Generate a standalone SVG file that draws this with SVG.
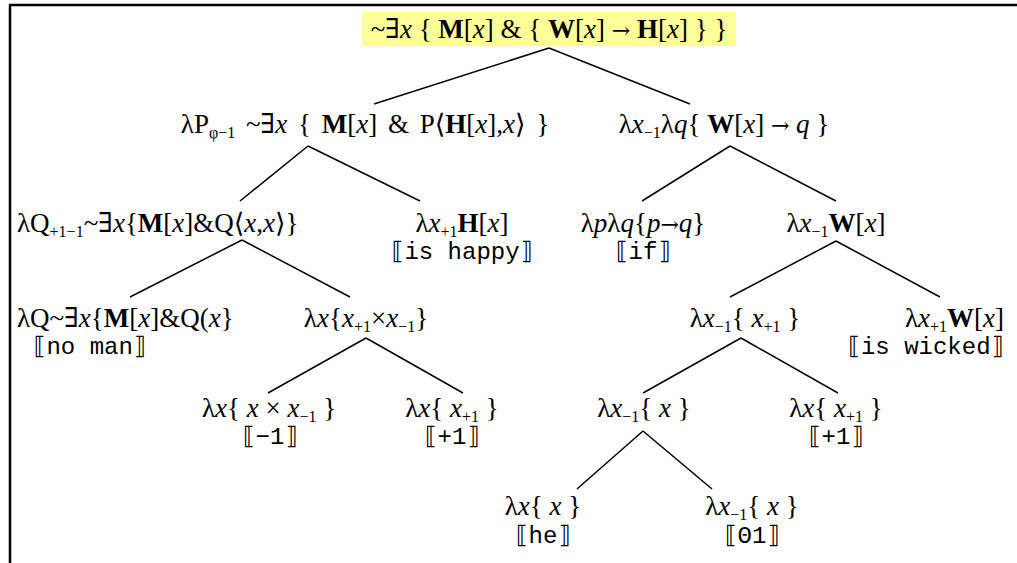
<svg xmlns="http://www.w3.org/2000/svg" width="1017" height="563" viewBox="0 0 1017 563">
<style>
.f{font-family:"Liberation Serif","Times New Roman","DejaVu Serif",serif;font-size:27px;fill:#000}
.m{font-family:"Liberation Mono","DejaVu Sans Mono",monospace;font-size:24px;fill:#000}
.a{font-family:"DejaVu Serif",serif;font-size:22px}
.c{text-anchor:middle}
.l{text-anchor:start}
.r{text-anchor:end}
.i{font-style:italic}
.b{font-weight:bold}
.s{font-size:16px}
.e{stroke:#000;stroke-width:1.5;fill:none}
</style>
<rect x="0" y="0" width="1017" height="563" fill="#fff"/>
<path d="M9 5H1017M10 5V563" stroke="#000" stroke-width="2.5" fill="none"/>
<g id="connectors" class="e">
<path d="M549 48L374 104M549 48L690 104"/>
<path d="M308 146L240 201M308 146L420 201"/>
<path d="M730 146L642 201M730 146L836 201"/>
<path d="M242 240L130 297M242 240L350 297"/>
<path d="M836 241L730 297M836 241L940 297"/>
<path d="M366 338L268 393M366 338L463 393"/>
<path d="M741 338L643 393M741 338L838 393"/>
<path d="M643 431L577 489M643 431L712 489"/>
</g>
<g id="root">
<rect x="362" y="12" width="374" height="34" fill="#ffff99"/>
<text class="f c" x="549" y="38">~∃<tspan class="i">x</tspan> { <tspan class="b">M</tspan>[<tspan class="i">x</tspan>] &amp; { <tspan class="b">W</tspan>[<tspan class="i">x</tspan>] <tspan class="a">→</tspan> <tspan class="b">H</tspan>[<tspan class="i">x</tspan>] } }</text>
</g>
<g id="n2a">
<text class="f c" x="365" y="133" word-spacing="4">λP<tspan class="s" dy="5">φ−1</tspan><tspan dy="-5"> ~∃</tspan><tspan class="i">x</tspan> { <tspan class="b">M</tspan>[<tspan class="i">x</tspan>] &amp; P⟨<tspan class="b">H</tspan>[<tspan class="i">x</tspan>],<tspan class="i">x</tspan>⟩ }</text>
</g>
<g id="n2b">
<text class="f c" x="724" y="133">λ<tspan class="i">x</tspan><tspan class="s" dy="5">−1</tspan><tspan dy="-5">λ</tspan><tspan class="i">q</tspan>{ <tspan class="b">W</tspan>[<tspan class="i">x</tspan>] <tspan class="a">→</tspan> <tspan class="i">q</tspan> }</text>
</g>
<g id="n3a">
<text class="f l" x="17" y="232">λQ<tspan class="s" dy="5">+1−1</tspan><tspan dy="-5">~∃</tspan><tspan class="i">x</tspan>{<tspan class="b">M</tspan>[<tspan class="i">x</tspan>]&amp;Q⟨<tspan class="i">x</tspan>,<tspan class="i">x</tspan>⟩}</text>
</g>
<g id="n3b">
<text class="f c" x="462" y="232">λ<tspan class="i">x</tspan><tspan class="s" dy="5">+1</tspan><tspan class="b" dy="-5">H</tspan>[<tspan class="i">x</tspan>]</text>
<text class="m c" x="462" y="259">⟦is happy⟧</text>
</g>
<g id="n3c">
<text class="f c" x="643" y="232">λ<tspan class="i">p</tspan>λ<tspan class="i">q</tspan>{<tspan class="i">p</tspan><tspan class="a">→</tspan><tspan class="i">q</tspan>}</text>
<text class="m c" x="643" y="259">⟦if⟧</text>
</g>
<g id="n3d">
<text class="f c" x="836" y="232">λ<tspan class="i">x</tspan><tspan class="s" dy="5">−1</tspan><tspan class="b" dy="-5">W</tspan>[<tspan class="i">x</tspan>]</text>
</g>
<g id="n4a">
<text class="f l" x="17" y="327">λQ~∃<tspan class="i">x</tspan>{<tspan class="b">M</tspan>[<tspan class="i">x</tspan>]&amp;Q(<tspan class="i">x</tspan>}</text>
<text class="m l" x="32" y="354">⟦no man⟧</text>
</g>
<g id="n4b">
<text class="f c" x="366" y="327">λ<tspan class="i">x</tspan>{<tspan class="i">x</tspan><tspan class="s" dy="5">+1</tspan><tspan dy="-5">×</tspan><tspan class="i">x</tspan><tspan class="s" dy="5">−1</tspan><tspan dy="-5">}</tspan></text>
</g>
<g id="n4c">
<text class="f c" x="745" y="327">λ<tspan class="i">x</tspan><tspan class="s" dy="5">−1</tspan><tspan dy="-5">{ </tspan><tspan class="i">x</tspan><tspan class="s" dy="5">+1</tspan><tspan dy="-5"> }</tspan></text>
</g>
<g id="n4d">
<text class="f r" x="1004" y="327">λ<tspan class="i">x</tspan><tspan class="s" dy="5">+1</tspan><tspan class="b" dy="-5">W</tspan>[<tspan class="i">x</tspan>]</text>
<text class="m r" x="1005" y="354">⟦is wicked⟧</text>
</g>
<g id="n5a">
<text class="f c" x="269" y="417">λ<tspan class="i">x</tspan>{ <tspan class="i">x</tspan> × <tspan class="i">x</tspan><tspan class="s" dy="5">−1</tspan><tspan dy="-5"> }</tspan></text>
<text class="m c" x="270" y="444">⟦−1⟧</text>
</g>
<g id="n5b">
<text class="f c" x="452" y="417">λ<tspan class="i">x</tspan>{ <tspan class="i">x</tspan><tspan class="s" dy="5">+1</tspan><tspan dy="-5"> }</tspan></text>
<text class="m c" x="452" y="444">⟦+1⟧</text>
</g>
<g id="n5c">
<text class="f c" x="644" y="417">λ<tspan class="i">x</tspan><tspan class="s" dy="5">−1</tspan><tspan dy="-5">{ </tspan><tspan class="i">x</tspan> }</text>
</g>
<g id="n5d">
<text class="f c" x="836" y="417">λ<tspan class="i">x</tspan>{ <tspan class="i">x</tspan><tspan class="s" dy="5">+1</tspan><tspan dy="-5"> }</tspan></text>
<text class="m c" x="836" y="444">⟦+1⟧</text>
</g>
<g id="n6a">
<text class="f c" x="543" y="515">λ<tspan class="i">x</tspan>{ <tspan class="i">x</tspan> }</text>
<text class="m c" x="543" y="543">⟦he⟧</text>
</g>
<g id="n6b">
<text class="f c" x="752" y="515">λ<tspan class="i">x</tspan><tspan class="s" dy="5">−1</tspan><tspan dy="-5">{ </tspan><tspan class="i">x</tspan> }</text>
<text class="m c" x="752" y="543">⟦Θ1⟧</text>
</g>
</svg>
